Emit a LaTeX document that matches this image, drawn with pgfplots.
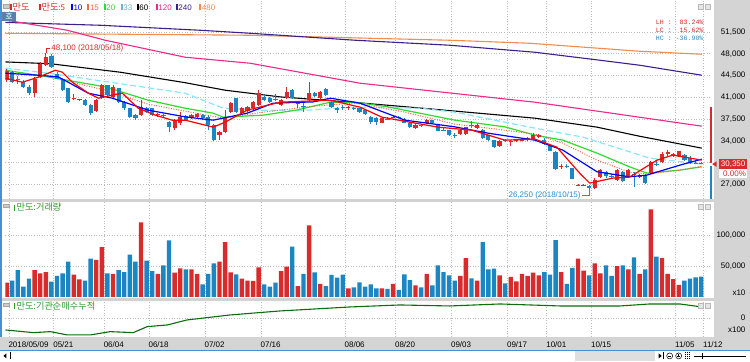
\documentclass[border=0pt]{standalone}
\usepackage{pgfplots}
\pgfplotsset{compat=1.18}
\usepackage{pgfplotstable}
\usepackage{fontspec}
\setmainfont{Liberation Sans}
\newfontfamily\kr{Noto Sans CJK KR}
\newfontfamily\mono{Liberation Mono}

\definecolor{cred}{HTML}{D92B2B}
\definecolor{cblue}{HTML}{1C86C3}
\definecolor{maF}{HTML}{FF0000}
\definecolor{maT}{HTML}{0000FF}
\definecolor{maFt}{HTML}{F06A45}
\definecolor{maTw}{HTML}{2EDB2E}
\definecolor{maTT}{HTML}{86E6FA}
\definecolor{maOT}{HTML}{F0288C}
\definecolor{maTF}{HTML}{3C1E8C}
\definecolor{maFE}{HTML}{F58B4C}
\definecolor{panelgray}{HTML}{D4D4D4}
\definecolor{gridc}{HTML}{BDBDBD}
\definecolor{lblgreen}{HTML}{2E9A2E}
\definecolor{instgreen}{HTML}{0A6E0A}
\definecolor{frameblue}{HTML}{4A8FD4}
\definecolor{hoblue}{HTML}{5C7FA8}
\definecolor{lowblue}{HTML}{2E8BC0}

\newcommand{\fs}{\fontsize{8}{9.6}\selectfont}
\newcommand{\krs}{\kr\fontsize{9.2}{10}\selectfont}

% i open high low close volume  (rising days)
\pgfplotstableread{
i o h l c v
0 43800 45600 43500 45300 23100
5 41607 44200 41000 44015 43500
6 44300 46600 44100 46422 38200
7 46155 48100 46000 47492 40300
12 40700 41600 40600 40850 36000
13 40550 40700 40400 40650 28500
16 38800 40700 38600 40537 59700
17 40805 43100 40700 42945 80600
19 41072 42900 40900 42677 37100
24 38130 40537 38000 39467 120400
27 38130 38400 37900 38280 37100
30 35990 37500 35800 37327 39200
31 36792 38665 36600 37862 46200
33 37600 38300 37500 38130 44600
34 37862 38500 37700 38290 37100
38 34900 35600 34200 35455 57000
39 35455 38932 35300 37595 88700
40 38665 40270 38500 40002 39800
42 38500 39400 38300 39200 29600
43 38800 39600 38700 39467 26300
44 39200 40400 39000 40270 25800
45 39735 42142 39600 41607 47800
49 39735 40700 39600 40537 41900
50 40805 42677 40700 41874 48900
52 40000 40270 39200 40150 17700
54 40537 43480 40400 41607 115600
56 40805 42000 40700 41874 21000
61 39200 39600 39000 39400 14000
67 36900 37700 36800 37595 14000
69 37750 38000 37600 37880 21000
73 35990 36700 35900 36525 18800
75 36800 37500 36700 37300 37100
81 35100 35900 35000 35800 33900
82 35100 36300 35000 36150 62900
84 35990 36700 35900 36525 26300
88 33150 34200 33000 34000 34900
90 33800 34200 33150 33950 32300
91 33900 34200 33800 34050 25300
92 34000 34300 33900 34150 37100
93 34100 34600 34000 34450 33900
94 34200 35200 34100 34950 39200
95 34650 35100 34500 34950 34900
99 29800 30300 29400 29950 40300
102 26850 27100 26700 26950 61800
103 26800 27000 26700 26900 42500
105 26400 28000 26300 27700 54300
106 28200 29500 28000 29300 38200
109 27700 29500 27600 29300 50000
111 28200 29500 28000 29300 44600
113 28200 28700 28100 28500 37100
115 28800 30800 28700 30600 141400
117 30600 32200 30500 31900 62900
118 31800 32500 31600 32200 37100
119 31700 32000 31400 31850 29000
120 31500 32400 31400 32300 19400
}\up

% falling days
\pgfplotstableread{
i o h l c v
1 45000 45200 43300 43480 26300
2 44000 44400 43200 43800 43500
3 43480 43700 42500 42677 16700
4 42677 42900 41400 41607 29600
8 47700 48000 45700 45887 24700
9 44817 45000 43900 44015 33900
10 43900 44000 42000 42142 38200
11 42410 42500 40000 40270 57000
14 40537 40700 39600 39735 26300
15 39735 39900 38100 38397 61800
18 42900 43000 41200 41340 38200
20 42410 42500 40100 40270 43500
21 40270 40400 39000 39200 40300
22 39200 39300 37700 37862 68300
23 38130 38300 37400 37595 57000
25 39200 39400 38500 38665 58600
26 39200 39300 38000 38130 41900
28 38100 38300 37800 37950 51100
29 37060 37200 35455 36257 91400
32 37970 38100 37200 37327 44600
35 38130 38300 37400 37600 20400
36 37862 38100 35800 36525 37100
37 36525 36700 34000 34117 54300
41 40805 40960 38500 38665 36600
46 41072 41300 40400 40537 20400
47 40805 41000 40100 40270 16700
48 40800 41600 40400 40600 23100
51 42142 42300 40700 40805 81200
53 39600 40000 38665 39467 37100
55 41607 41800 41000 41180 39800
57 42300 42500 41200 41340 17700
58 40270 40400 39300 39467 35500
59 39200 39400 38500 38932 31200
60 39467 39700 39000 39300 36000
62 39300 39500 38900 39150 15600
63 39200 39300 38500 38665 23700
64 38932 39000 38100 38290 16700
65 37862 38000 36700 37060 20400
66 37700 37800 36525 37060 14000
68 37550 37800 37300 37400 12900
70 37880 38000 37700 37750 11300
71 37450 37600 36800 36900 36600
72 36900 37000 36000 36150 27400
74 36550 36700 36300 36420 15600
76 37300 37400 36700 36800 18800
77 36500 36600 35500 35600 51100
78 35800 36000 35500 35700 40300
79 35700 35800 34800 34900 34900
80 34950 35300 34500 34850 26300
83 36550 37200 36000 36420 30100
85 35800 35900 34300 34400 88700
86 34900 35000 34000 34117 44600
87 34117 34200 32900 33047 45700
89 34150 34300 33800 34000 22000
96 34200 34400 33400 33500 40300
97 33300 33400 32300 32400 36000
98 32200 32300 29300 29400 91900
100 29950 30200 29600 29800 21000
101 29600 29700 27800 27900 46800
104 26700 26900 26250 26400 34900
107 29000 29200 28100 28300 51100
108 28400 28600 28100 28300 33900
110 29000 29200 27300 27500 51100
112 28600 29000 26600 28450 64000
114 28500 28700 27000 27200 44600
116 30300 30700 29900 30150 65000
121 31700 31900 30800 30900 26300
122 31300 31500 30300 30500 29600
123 30500 30700 30200 30350 31700
124 30500 30600 30200 30350 33000
}\down

\pgfplotsset{
  panel/.style={
    scale only axis, anchor=south west, width=707pt,
    xmin=-0.214, xmax=125.86,
    axis line style={draw=none}, tick style={draw=none}, major tick length=0pt,
    grid=major, major grid style={gridc, dash pattern=on 1pt off 1.6pt, line width=0.6pt},
    xtick={0.4,8.4,17.4,25.4,35.4,45.4,60.4,69.4,79.4,89.4,96.4,104.4,119.4,124.4},
    scaled y ticks=false, scaled x ticks=false,
    yticklabel pos=right,
    yticklabel style={anchor=east, inner sep=0pt, xshift=34pt, font=\fs},
    /pgf/number format/assume math mode=true,
  },
}

\begin{document}
\begin{tikzpicture}[x=1pt,y=1pt]
% background
\fill[white] (0pt,0pt) rectangle (750pt,362pt);
\fill[panelgray] (714.5pt,12pt) rectangle (750pt,362pt);
\fill[panelgray] (0pt,12pt) rectangle (750pt,25pt);
\draw[frameblue, line width=0.8pt] (0pt,11.6pt) -- (750pt,11.6pt);
% separators
\fill[gray!35] (0pt,160.2pt) rectangle (714.5pt,162.8pt);
\fill[gray!35] (0pt,61.2pt) rectangle (714.5pt,63.8pt);

% ---------- price panel ----------
\begin{axis}[panel, at={(5pt,163pt)}, height=199pt,
  ymin=24632, ymax=56591, xticklabels={},
  ytick={27000,30500,34000,37500,41000,44500,48000,51500},
  yticklabels={{27,000},{},{34,000},{37,500},{41,000},{44,500},{48,000},{51,500}}]
% long moving averages
\addplot[maFE, line width=1.1pt] coordinates {(-1.1,51291) (43.47,50970) (79.14,50167) (93.4,49685) (113.0,48400) (124.1,47919)};
\addplot[maTF, line width=1.1pt] coordinates {(-1.1,53058) (16.73,52576) (34.56,51773) (43.47,51291) (62.25,50167) (79.14,49364) (94.3,48240) (105.9,46955) (113.0,46153) (124.1,44546)};
\addplot[maOT, line width=1.1pt] coordinates {(-1.1,53540) (10.84,51773) (17.62,50167) (31.88,47437) (43.47,46473) (63.09,43261) (94.3,40210) (124.1,36355)};
\addplot[black, line width=1.1pt] coordinates {(-0.2,46682) (7.81,46393) (20.29,45028) (31.88,43342) (39.0,42137) (48.82,41061) (63.09,40098) (74.15,39246) (94.3,37640) (105.4,36195) (113.0,34734) (124.1,32822)};
\addplot[maTT, line width=1.2pt, dash pattern=on 6pt off 3pt] coordinates {(-0.2,45670) (7.45,44867) (31.88,41655) (38.66,39246) (45.26,38925) (53.64,38925) (62.25,39407) (73.79,39246) (80.03,38604) (93.4,36195) (102.9,34589) (114.8,31216) (124.1,30252)};
\addplot[maTw, line width=1.2pt] coordinates {(-0.2,45349) (7.45,44273) (17.62,42667) (25.28,40531) (31.88,39246) (36.88,38443) (38.66,37801) (45.79,38122) (51.68,38925) (57.79,40210) (62.25,40210) (68.08,39455) (80.03,37319) (88.94,36243) (94.3,34910) (99.29,34107) (105.4,32019) (111.2,29819) (114.3,28807) (120.2,29289) (124.1,29819)};
\addplot[maFt, line width=1pt, dash pattern=on 1pt off 1.5pt] coordinates {(-0.2,45028) (7.81,44225) (17.62,42137) (25.28,39889) (31.88,38764) (38.66,37640) (45.79,38604) (54.76,39568) (62.25,40050) (71.11,38604) (80.03,36677) (88.94,35713) (94.3,35071) (99.29,33625) (105.4,30895) (111.2,28968) (114.3,28646) (120.2,29289) (124.1,29931)};
% candles: wicks and bodies
\addplot[cred, line width=0.9pt, quiver={u=0, v=\thisrow{h}-\thisrow{l}}] table[x=i, y=l] {\up};
\addplot[cblue, line width=0.9pt, quiver={u=0, v=\thisrow{h}-\thisrow{l}}] table[x=i, y=l] {\down};
\addplot[cred, line width=4.2pt, quiver={u=0, v=\thisrow{c}-\thisrow{o}}] table[x=i, y=o] {\up};
\addplot[cblue, line width=4.2pt, quiver={u=0, v=\thisrow{c}-\thisrow{o}}] table[x=i, y=o] {\down};
% short moving averages on top
\addplot[maT, line width=1.2pt] coordinates {(-0.2,44867) (5.67,44546) (9.24,44273) (14.59,41655) (18.86,40852) (25.28,38925) (31.88,37849) (36.88,37319) (42.94,38443) (47.57,40050) (54.76,40258) (57.79,40852) (63.09,40050) (71.11,37319) (80.03,36243) (85.91,35232) (94.3,34107) (99.29,32501) (105.4,29016) (111.2,28213) (114.3,28486) (120.2,30092) (124.1,31055)};
\addplot[maF, line width=1.2pt] coordinates {(-0.2,44064) (2.82,43422) (5.67,44225) (8.7,45349) (9.95,45028) (11.73,43422) (14.59,41655) (16.37,40852) (18.86,41334) (20.65,41655) (23.5,39246) (26.53,38122) (29.56,37319) (31.88,37319) (36.88,36195) (39.0,36998) (42.94,38925) (48.82,40210) (57.79,40531) (63.09,39407) (67.01,37801) (77.0,36195) (83.06,35713) (88.94,34107) (94.3,34267) (98.22,32983) (102.3,28807) (104.1,27201) (108.2,28004) (111.2,28165) (116.1,30895) (118.9,31698) (124.1,30895)};
% high / low annotations
\draw[cred, line width=0.6pt] (axis cs:7,48100) -- ++(0pt,5pt) -- ++(4.5pt,0pt)
  node[anchor=west, inner sep=0.8pt, font=\fs, text=cred] {48,100 (2018/05/18)};
\draw[lowblue, line width=0.6pt] (axis cs:104,26250) -- ++(0pt,-6.5pt) -- ++(-7.5pt,0pt)
  node[anchor=east, inner sep=0.8pt, font=\fs, text=lowblue] {26,250 (2018/10/15)};
\end{axis}

% ---------- volume panel ----------
\begin{axis}[panel, at={(5pt,65pt)}, height=95pt,
  ymin=0, ymax=153226, xticklabels={},
  ytick={50000,100000}, yticklabels={{50,000},{100,000}}]
\addplot[ybar, bar width=4.4pt, bar shift=0pt, fill=cred, draw=none] table[x=i, y=v] {\up};
\addplot[ybar, bar width=4.4pt, bar shift=0pt, fill=cblue, draw=none] table[x=i, y=v] {\down};
\end{axis}

% ---------- institutional cumulative panel ----------
\begin{axis}[panel, at={(5pt,25pt)}, height=36pt,
  ymin=-19, ymax=17, ytick={0}, yticklabels={0},
  xticklabels={2018/05/09,05/21,06/04,06/18,07/02,07/16,08/06,08/20,09/03,09/17,10/01,10/15,11/05,11/12},
  xticklabel style={anchor=west, inner sep=0pt, yshift=-8pt, xshift=-0.5pt, font=\fs}]
\addplot[instgreen, line width=1.1pt] coordinates {(-0.2,-12) (4.78,-14.7) (7.81,-13.7) (10.84,-17) (14.94,-17) (18.5,-13.7) (22.61,-14.7) (25.1,-8.7) (28.7,-7) (32.2,-2) (39.9,3) (48.8,7) (61.3,11) (70.2,13) (79.1,12) (88.1,14) (98.8,12) (109.5,12) (114.8,14) (120.2,14) (124.1,11)};
\end{axis}

% left frame line
\fill[frameblue] (0pt,25pt) rectangle (1.6pt,362pt);

% legend row
\filldraw[fill=gray!40, draw=gray!70, line width=0.3pt] (2.5pt,354.5pt) rectangle (9pt,358pt);
\newcommand{\legitem}[4]{\fill[#3] (#1pt,352pt) rectangle ++(1.8pt,6.2pt);
  \node[anchor=base west, inner sep=0pt, text=#3] at (#2pt,352pt) {#4};}
\legitem{9.5}{12}{cred}{\krs 만도}
\legitem{38.5}{41}{cred}{\krs 만도\fs:5}
\legitem{70.5}{73}{maT}{\fs 10}
\legitem{87}{89.5}{maFt}{\fs 15}
\legitem{103.5}{106}{maTw}{\fs 20}
\legitem{120.5}{123}{maTT!80!black}{\fs 33}
\legitem{136.5}{139}{black}{\fs 60}
\legitem{155.5}{158}{maOT}{\fs 120}
\legitem{175.5}{178}{maTF}{\fs 240}
\legitem{199}{201.5}{maFE}{\fs 480}
% 'ho' box
\fill[hoblue] (2pt,341pt) rectangle (15.5pt,350.5pt);
\node[text=white, inner sep=0pt, font=\kr\fontsize{8}{8}\selectfont] at (8.75pt,345.7pt) {호};

% LH / LC / HC
\node[anchor=east, inner sep=0pt, font=\mono\fontsize{6.6}{7}\selectfont, text=cred] at (704pt,340pt) {LH :\ \ 83.24\%};
\node[anchor=east, inner sep=0pt, font=\mono\fontsize{6.6}{7}\selectfont, text=cred] at (704pt,332pt) {LC :\ \ 15.62\%};
\node[anchor=east, inner sep=0pt, font=\mono\fontsize{6.6}{7}\selectfont, text=lowblue] at (704pt,324pt) {HC : -36.90\%};

% panel buttons
\newcommand{\btns}[1]{\filldraw[fill=gray!20, draw=gray!55, line width=0.4pt] (699pt,#1pt) rectangle ++(5pt,5pt);
  \filldraw[fill=gray!20, draw=gray!55, line width=0.4pt] (705.5pt,#1pt) rectangle ++(5pt,5pt);}
\btns{353}
\btns{153}
\btns{54}

% price position bar and current price
\fill[cred] (710.7pt,198.7pt) rectangle (712.7pt,255.3pt);
\fill[cblue] (710.7pt,163pt) rectangle (712.7pt,196pt);
\fill[cred] (712.6pt,198pt) -- (717pt,200.8pt) -- (717pt,195.2pt) -- cycle;
\fill[cred] (719.5pt,193pt) rectangle (747.5pt,203pt);
\node[text=white, inner sep=0pt, font=\fs] at (733.5pt,198pt) {30,350};
\fill[white] (719.5pt,184pt) rectangle (747.5pt,193pt);
\node[anchor=east, text=cred, inner sep=0pt, font=\fs] at (746.5pt,188.5pt) {0.00\%};

% volume / inst labels
\filldraw[fill=gray!40, draw=gray!70, line width=0.3pt] (2.5pt,155pt) rectangle (9pt,158pt);
\fill[lblgreen] (13.3pt,151.5pt) rectangle ++(1.8pt,6pt);
\node[anchor=base west, inner sep=0pt, text=lblgreen] at (16pt,151.5pt) {\krs 만도:거래량};
\filldraw[fill=gray!40, draw=gray!70, line width=0.3pt] (2.5pt,56pt) rectangle (9pt,59pt);
\fill[lblgreen] (13.3pt,52.5pt) rectangle ++(1.8pt,6pt);
\node[anchor=base west, inner sep=0pt, text=lblgreen] at (16pt,52.5pt) {\krs 만도:기관순매수누적};
\node[anchor=east, inner sep=0pt, font=\fs] at (746pt,69pt) {x10};
\node[anchor=east, inner sep=0pt, font=\fs] at (746pt,32pt) {x100};

% scroll bar row
\fill[black] (3pt,6pt) -- (6pt,8.5pt) -- (6pt,3.5pt) -- cycle;
\draw[black, line width=0.6pt] (9.5pt,2.5pt) -- (9.5pt,9.5pt);
\fill[gray!25] (575pt,1pt) rectangle (655pt,11pt);
\fill[black] (659pt,3.5pt) -- (662pt,6pt) -- (659pt,8.5pt) -- cycle;
\draw[black, line width=0.6pt] (663.5pt,2.5pt) -- (663.5pt,9.5pt);
\draw[black, line width=0.5pt] (670pt,6pt) circle (3pt);
\draw[black, line width=0.5pt] (668.5pt,6pt) -- (671.5pt,6pt);
\draw[black, line width=0.5pt] (679pt,6pt) circle (3pt);
\draw[black, line width=0.5pt] (677.5pt,6pt) -- (680.5pt,6pt) (679pt,4.5pt) -- (679pt,7.5pt);
\draw[black, line width=0.5pt, dash pattern=on 1pt off 1pt] (686pt,2.5pt) -- (686pt,9.5pt) (688pt,2.5pt) -- (688pt,9.5pt) (690pt,2.5pt) -- (690pt,9.5pt);
\draw[black, line width=0.6pt] (694pt,6pt) -- (746pt,6pt);
\draw[black, line width=0.8pt] (703pt,3pt) -- (703pt,9pt);
\end{tikzpicture}
\end{document}
